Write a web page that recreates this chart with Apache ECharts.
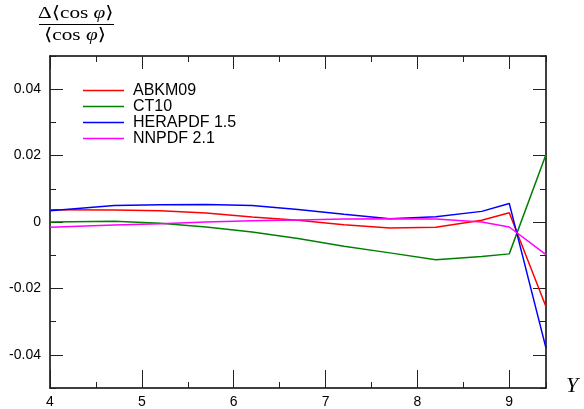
<!DOCTYPE html>
<html>
<head>
<meta charset="utf-8">
<script src="https://cdn.jsdelivr.net/npm/echarts@6/dist/echarts.min.js"></script>
<style>
html,body{margin:0;padding:0;background:#fff;}
#chart{width:584px;height:409px;}
</style>
</head>
<body>
<div id="chart"></div>
<script>
// Data
var xValues = [4, 4.7, 5.2, 5.7, 6.2, 6.7, 7.2, 7.7, 8.2, 8.7, 9.0, 9.4];
var seriesNames = ['ABKM09', 'CT10', 'HERAPDF 1.5', 'NNPDF 2.1'];
var abkm09 = [0.0037, 0.0036, 0.0034, 0.0027, 0.0015, 0.0005, -0.0008, -0.0018, -0.0016, 0.0005, 0.0028, -0.0255];
var ct10 = [0.0, 0.0002, -0.0004, -0.0015, -0.003, -0.005, -0.0073, -0.0093, -0.0114, -0.0104, -0.0096, 0.0203];
var herapdf15 = [0.0034, 0.005, 0.0052, 0.0053, 0.005, 0.0038, 0.0023, 0.001, 0.0016, 0.0032, 0.0056, -0.038];
var nnpdf21 = [-0.0016, -0.0009, -0.0005, 0.0, 0.0004, 0.0006, 0.0009, 0.001, 0.0009, 0.0, -0.0015, -0.0098];
var xTickLabels = ['4', '5', '6', '7', '8', '9'];
var yTickLabels = ['-0.04', '-0.02', '0', '0.02', '0.04'];
var colors = ['#ff0000', '#008000', '#0000ff', '#ff00ff'];

function pairs(vals) {
  return xValues.map(function (x, i) { return [x, vals[i]]; });
}
var allValues = [abkm09, ct10, herapdf15, nnpdf21];

var chart = echarts.init(document.getElementById('chart'), null, {renderer: 'canvas'});
var FONT = 'Liberation Sans, Arial, Helvetica, sans-serif';
var SERIF = 'Liberation Serif, DejaVu Serif, serif';

var frameLine = {show: true, onZero: false, lineStyle: {color: '#000', width: 1.5}};
var minorTick = {show: true, inside: true, length: 6, lineStyle: {color: '#222', width: 1}};
var majorTick = {show: true, inside: true, length: 13, lineStyle: {color: '#222', width: 1}};

var option = {
  animation: false,
  backgroundColor: '#fff',
  grid: [
    {left: 50, right: 38, top: 56, bottom: 21},
    {left: 50, right: 74.74, top: 56, bottom: 21},
    {left: 50, right: 38, top: 89.2, bottom: 54.2}
  ],
  legend: {
    orient: 'vertical',
    left: 83,
    top: 82.5,
    padding: 0,
    icon: 'rect',
    itemWidth: 41,
    itemHeight: 1.6,
    itemGap: 0,
    data: seriesNames,
    textStyle: {fontFamily: FONT, fontSize: 16, color: '#000', padding: [0, 0, 0, 4], lineHeight: 15}
  },
  xAxis: [
    {gridIndex: 0, type: 'value', position: 'bottom', min: 4, max: 9.4, interval: 0.5,
     axisLine: frameLine, axisTick: minorTick, axisLabel: {show: false}, splitLine: {show: false}},
    {gridIndex: 0, type: 'value', position: 'top', min: 4, max: 9.4, interval: 0.5,
     axisLine: frameLine, axisTick: minorTick, axisLabel: {show: false}, splitLine: {show: false}},
    {gridIndex: 1, type: 'value', position: 'bottom', min: 4, max: 9, interval: 1,
     axisLine: {show: false, onZero: false}, axisTick: majorTick, splitLine: {show: false},
     axisLabel: {show: true, margin: 12, fontFamily: FONT, fontSize: 14, color: '#000',
       formatter: function (v) { var i = Math.round(v) - 4; return xTickLabels[i] || ''; }}},
    {gridIndex: 1, type: 'value', position: 'top', min: 4, max: 9, interval: 1,
     axisLine: {show: false, onZero: false}, axisTick: majorTick, axisLabel: {show: false}, splitLine: {show: false}},
    {gridIndex: 2, type: 'value', show: false, min: 4, max: 9.4}
  ],
  yAxis: [
    {gridIndex: 0, type: 'value', position: 'left', min: -0.05, max: 0.05, interval: 0.01,
     axisLine: frameLine, axisTick: minorTick, axisLabel: {show: false}, splitLine: {show: false}},
    {gridIndex: 0, type: 'value', position: 'right', min: -0.05, max: 0.05, interval: 0.01,
     axisLine: frameLine, axisTick: minorTick, axisLabel: {show: false}, splitLine: {show: false}},
    {gridIndex: 1, type: 'value', show: false, min: -0.05, max: 0.05},
    {gridIndex: 2, type: 'value', position: 'left', min: -0.04, max: 0.04, interval: 0.02,
     axisLine: {show: false, onZero: false}, axisTick: majorTick, splitLine: {show: false},
     axisLabel: {show: true, margin: 9, fontFamily: FONT, fontSize: 14, color: '#000',
       formatter: function (v) { var i = Math.round(v * 50) + 2; return yTickLabels[i] || ''; }}},
    {gridIndex: 2, type: 'value', position: 'right', min: -0.04, max: 0.04, interval: 0.02,
     axisLine: {show: false, onZero: false}, axisTick: majorTick, axisLabel: {show: false}, splitLine: {show: false}}
  ],
  series: seriesNames.map(function (name, i) {
    return {
      name: name,
      type: 'line',
      xAxisIndex: 0,
      yAxisIndex: 0,
      data: pairs(allValues[i]),
      symbol: 'none',
      showSymbol: false,
      clip: true,
      color: colors[i],
      lineStyle: {color: colors[i], width: 1.5}
    };
  }),
  graphic: [
    {type: 'text', left: 38, top: 5, scaleX: 1.25,
     style: {text: 'Δ⟨cos {i|φ}⟩', fill: '#000', font: '17px ' + SERIF,
       rich: {i: {fontStyle: 'italic', fontSize: 17, fontFamily: SERIF}}}},
    {type: 'line', shape: {x1: 39, y1: 24.5, x2: 114, y2: 24.5}, style: {stroke: '#000', lineWidth: 1}},
    {type: 'text', left: 44, top: 27, scaleX: 1.25,
     style: {text: '⟨cos {i|φ}⟩', fill: '#000', font: '17px ' + SERIF,
       rich: {i: {fontStyle: 'italic', fontSize: 17, fontFamily: SERIF}}}},
    {type: 'text', left: 566, top: 375,
     style: {text: 'Y', fill: '#000', font: 'italic 22px ' + SERIF}}
  ]
};
chart.setOption(option);
</script>
</body>
</html>
